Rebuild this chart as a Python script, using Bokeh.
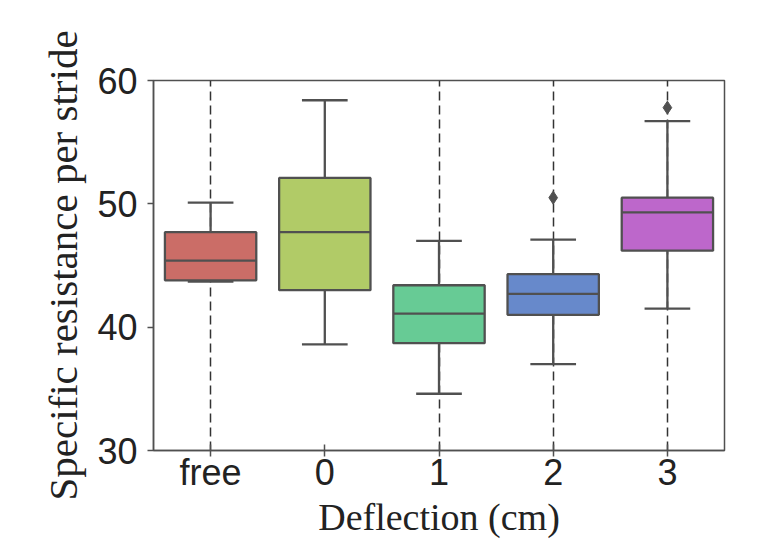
from bokeh.plotting import figure
from bokeh.models import ColumnDataSource, FactorRange, FixedTicker
from bokeh.transform import dodge
from bokeh.embed import file_html
from bokeh.resources import INLINE

categories = ["free", "0", "1", "2", "3"]
lower_whisker = [43.7, 38.6, 34.6, 37.0, 41.5]
q1 = [43.8, 43.0, 38.7, 41.0, 46.2]
median = [45.4, 47.7, 41.1, 42.7, 49.3]
q3 = [47.7, 52.1, 43.4, 44.3, 50.5]
upper_whisker = [50.1, 58.4, 47.0, 47.1, 56.7]
outlier_cat = ["2", "3"]
outlier_val = [50.5, 57.8]
colors = ["#cb6d67", "#b1cb67", "#67cb95", "#6789cb", "#bd67cb"]
y_ticks = [30, 40, 50, 60]

LINE = "#505050"

src = ColumnDataSource(dict(cat=categories, lw=lower_whisker, q1=q1, med=median,
                            q3=q3, uw=upper_whisker, color=colors))
osrc = ColumnDataSource(dict(cat=outlier_cat, val=outlier_val))

p = figure(x_range=FactorRange(*categories, range_padding=0), y_range=(30, 60),
           width=774, height=540, output_backend="svg", toolbar_location=None,
           min_border_left=153, min_border_right=50, min_border_top=80, min_border_bottom=89)
p.x_range.factor_padding = 0
p.x_range.range_padding = 0

# grid
p.xgrid.grid_line_color = "#333333"
p.xgrid.grid_line_dash = "9 5"
p.xgrid.grid_line_width = 1.5
p.ygrid.grid_line_color = None

# whisker stems
p.segment(x0="cat", y0="q3", x1="cat", y1="uw", source=src, line_color=LINE, line_width=2.3)
p.segment(x0="cat", y0="q1", x1="cat", y1="lw", source=src, line_color=LINE, line_width=2.3)
# caps
p.segment(x0=dodge("cat", -0.2, range=p.x_range), y0="uw",
          x1=dodge("cat", 0.2, range=p.x_range), y1="uw", source=src, line_color=LINE, line_width=2.3)
p.segment(x0=dodge("cat", -0.2, range=p.x_range), y0="lw",
          x1=dodge("cat", 0.2, range=p.x_range), y1="lw", source=src, line_color=LINE, line_width=2.3)
# boxes
p.vbar(x="cat", top="q3", bottom="q1", width=0.8, source=src, fill_color="color",
       line_color=LINE, line_width=2.3)
# medians
p.segment(x0=dodge("cat", -0.4, range=p.x_range), y0="med",
          x1=dodge("cat", 0.4, range=p.x_range), y1="med", source=src, line_color=LINE, line_width=2.3)
# outliers
p.scatter(x="cat", y="val", source=osrc, marker="diamond", size=13,
          fill_color=LINE, line_color=LINE)

p.outline_line_color = LINE
p.outline_line_width = 1.5
p.outline_line_alpha = 1

p.yaxis.ticker = FixedTicker(ticks=y_ticks)
p.yaxis.minor_tick_line_color = None
for ax in (p.xaxis, p.yaxis):
    ax.axis_line_color = LINE
    ax.axis_line_width = 1.5
    ax.major_tick_line_color = LINE
    ax.major_tick_line_width = 1.5
    ax.major_label_text_font = "Liberation Sans"
    ax.major_label_text_font_size = "36px"
    ax.major_label_text_color = "#222222"
    ax.axis_label_text_font = "Liberation Serif"
    ax.axis_label_text_font_style = "normal"
    ax.axis_label_text_color = "#222222"

p.yaxis.major_tick_in = 0
p.yaxis.major_tick_out = 6
p.yaxis.major_label_standoff = 10
p.yaxis.axis_label = "Specific resistance per stride"
p.yaxis.axis_label_text_font_size = "41px"
p.yaxis.axis_label_standoff = 8

p.xaxis.major_tick_in = 6
p.xaxis.major_tick_out = 6
p.xaxis.major_label_standoff = -5
p.xaxis.axis_label = "Deflection (cm)"
p.xaxis.axis_label_text_font_size = "38px"
p.xaxis.axis_label_standoff = 0

open("out.html", "w").write(file_html(p, INLINE))
